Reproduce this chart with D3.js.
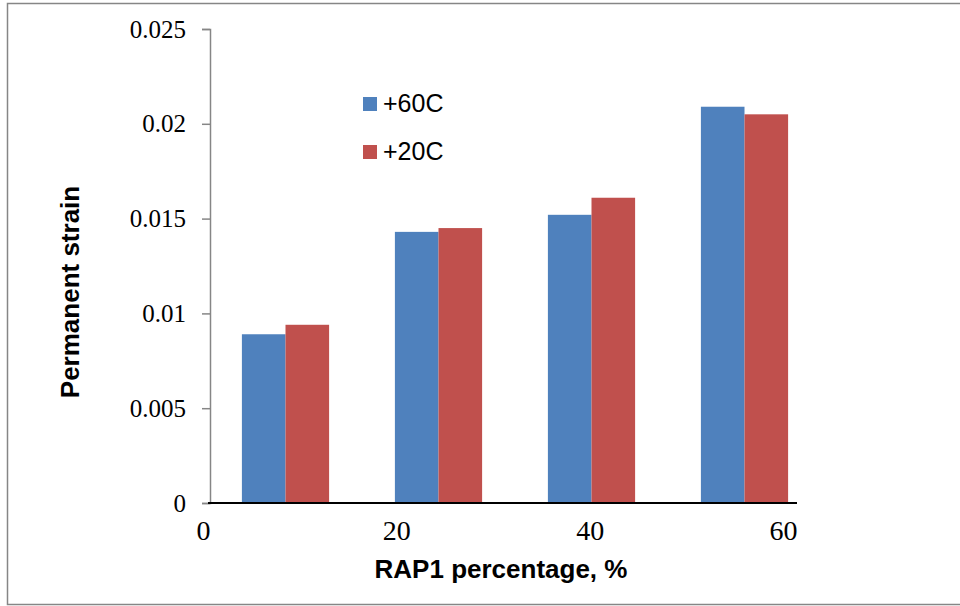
<!DOCTYPE html>
<html>
<head>
<meta charset="utf-8">
<script src="https://cdn.jsdelivr.net/npm/d3@7"></script>
<style>
	body { margin: 0; background: #fff; }
	svg { display: block; }
</style>
</head>
<body>
<svg id="chart"></svg>
<script>
// groups along the category axis (four mixes)
const groups = ['m1', 'm2', 'm3', 'm4'];
const seriesNames = ['+60C', '+20C'];
const strain60 = [0.0089, 0.0143, 0.0152, 0.0209];
const strain20 = [0.0094, 0.0145, 0.0161, 0.0205];
const yTicks = [0, 0.005, 0.01, 0.015, 0.02, 0.025];
const xTickLabels = [0, 20, 40, 60];

const colors = { '+60C': '#4f81bd', '+20C': '#c0504d' };

const width = 960,
	height = 606;
const plot = { left: 209, right: 821, top: 29, bottom: 503, axisEnd: 797 };

const svg = d3.select('#chart').attr('width', width).attr('height', height);

// outer chart frame
svg.append('rect')
	.attr('x', 7.5)
	.attr('y', 3.5)
	.attr('width', 960)
	.attr('height', 601)
	.attr('fill', 'none')
	.attr('stroke', '#868686')
	.attr('stroke-width', 1.5);

const yScale = d3.scaleLinear().domain([0, 0.025]).range([plot.bottom, plot.top]);

const xBand = d3
	.scaleBand()
	.domain(groups)
	.range([plot.left, plot.right])
	.paddingInner(0.43)
	.paddingOuter(0.215);

const xSeries = d3.scaleBand().domain(seriesNames).range([0, xBand.bandwidth()]);

// tick labels of the bottom axis sit on a plain 0-60 scale
const xLabelScale = d3.scaleLinear().domain([0, 60]).range([203, 783]);

const rows = groups.map((g, i) => ({
	group: g,
	values: [
		{ name: '+60C', value: strain60[i] },
		{ name: '+20C', value: strain20[i] },
	],
}));

// bars
svg.append('g')
	.selectAll('g')
	.data(rows)
	.join('g')
	.attr('transform', (d) => `translate(${xBand(d.group)},0)`)
	.selectAll('rect')
	.data((d) => d.values)
	.join('rect')
	.attr('x', (d) => xSeries(d.name))
	.attr('y', (d) => yScale(d.value))
	.attr('width', xSeries.bandwidth())
	.attr('height', (d) => yScale(0) - yScale(d.value))
	.attr('fill', (d) => colors[d.name]);

// y axis
const yAxisG = svg
	.append('g')
	.attr('transform', `translate(${plot.left + 1},0)`)
	.call(
		d3
			.axisLeft(yScale)
			.tickValues(yTicks)
			.tickSize(8)
			.tickPadding(16)
			.tickFormat((d) => (d === 0 ? '0' : String(+d.toFixed(3))))
	);
yAxisG.select('.domain').attr('stroke', '#868686').attr('stroke-width', 1.5);
yAxisG.selectAll('.tick line').attr('stroke', '#868686').attr('stroke-width', 1.5);
yAxisG
	.selectAll('text')
	.attr('font-family', '"Liberation Serif", "Times New Roman", serif')
	.attr('font-size', '25px')
	.attr('fill', '#000');

// x axis baseline
svg.append('line')
	.attr('x1', plot.left - 1)
	.attr('x2', plot.axisEnd)
	.attr('y1', yScale(0))
	.attr('y2', yScale(0))
	.attr('stroke', '#000')
	.attr('stroke-width', 2.2);

// x tick labels
const xAxisG = svg
	.append('g')
	.attr('transform', `translate(0,${plot.bottom})`)
	.call(d3.axisBottom(xLabelScale).tickValues(xTickLabels).tickSize(0).tickPadding(17));
xAxisG.select('.domain').remove();
xAxisG
	.selectAll('text')
	.attr('font-family', '"Liberation Serif", "Times New Roman", serif')
	.attr('font-size', '28px')
	.attr('fill', '#000');

// axis titles
svg.append('text')
	.attr('x', 501)
	.attr('y', 578)
	.attr('text-anchor', 'middle')
	.attr('font-family', '"Liberation Sans", Arial, sans-serif')
	.attr('font-weight', 'bold')
	.attr('font-size', '26px')
	.text('RAP1 percentage, %');

svg.append('text')
	.attr('transform', 'translate(79,292) rotate(-90)')
	.attr('text-anchor', 'middle')
	.attr('font-family', '"Liberation Sans", Arial, sans-serif')
	.attr('font-weight', 'bold')
	.attr('font-size', '26px')
	.text('Permanent strain');

// legend
const legend = svg
	.append('g')
	.selectAll('g')
	.data(seriesNames)
	.join('g')
	.attr('transform', (d, i) => `translate(363,${97 + i * 48})`);

legend
	.append('rect')
	.attr('width', 14)
	.attr('height', 14)
	.attr('fill', (d) => colors[d]);

legend
	.append('text')
	.attr('x', 20)
	.attr('y', 15)
	.attr('font-family', '"Liberation Sans", Arial, sans-serif')
	.attr('font-size', '25px')
	.text((d) => d);
</script>
</body>
</html>
